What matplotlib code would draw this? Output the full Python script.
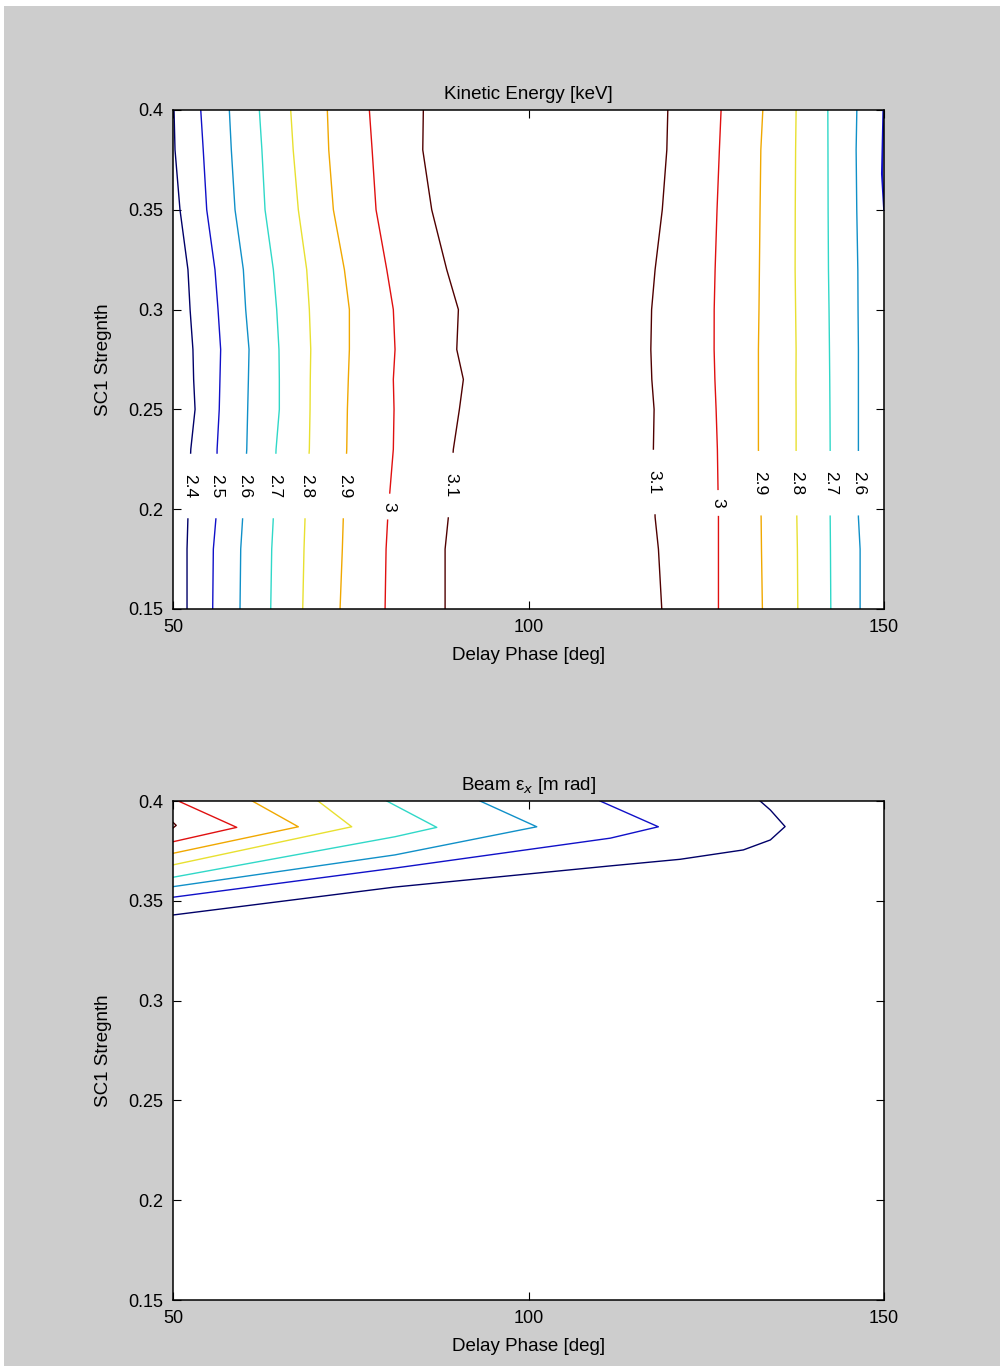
import numpy as np
import matplotlib
matplotlib.use("Agg")
import matplotlib.pyplot as plt
from matplotlib.patches import Rectangle

plt.rcParams["font.family"] = ["Liberation Sans", "DejaVu Sans"]
plt.rcParams["mathtext.fontset"] = "dejavusans"

# contour colours, lowest level -> highest level (jet-like)
level_colors = ["#000068", "#1010c8", "#1090c8", "#30d8c8",
                "#e8e030", "#f0a800", "#e01010", "#500000"]

# ---- Kinetic energy contours: x position of each level at these y values
ke_y = [0.15, 0.18, 0.196, 0.23, 0.25, 0.265, 0.28, 0.30, 0.32, 0.35, 0.38, 0.40]

ke_levels_left = [2.4, 2.5, 2.6, 2.7, 2.8, 2.9, 3.0, 3.1]
ke_x_left = [
    [51.97, 51.97, 52.1, 52.5, 53.1, 52.9, 52.8, 52.4, 52.1, 50.98, 50.28, 50.14],
    [55.58, 55.67, 56.05, 56.2, 56.5, 56.6, 56.7, 56.33, 55.9, 54.74, 54.25, 53.9],
    [59.42, 59.52, 59.8, 60.37, 60.5, 60.6, 60.69, 60.22, 59.89, 58.72, 58.2, 57.92],
    [63.74, 63.88, 64.11, 64.49, 64.95, 64.95, 64.9, 64.58, 64.11, 62.94, 62.5, 62.14],
    [68.24, 68.42, 68.57, 69.17, 69.27, 69.3, 69.37, 69.17, 68.8, 67.62, 66.9, 66.55],
    [73.49, 73.81, 73.95, 74.43, 74.52, 74.65, 74.8, 74.8, 74.1, 72.55, 71.9, 71.7],
    [79.82, 79.96, 80.2, 80.98, 81.08, 80.98, 81.22, 80.98, 80.06, 78.55, 78.0, 77.61],
    [88.26, 88.26, 88.72, 89.42, 90.27, 90.83, 89.9, 90.13, 88.49, 86.38, 85.12, 85.2],
]
ke_label_y_left = [0.2116, 0.2116, 0.2116, 0.2116, 0.2116, 0.2116, 0.2013, 0.2121]

ke_levels_right = [3.1, 3.0, 2.9, 2.8, 2.7, 2.6]
ke_x_right = [
    [118.73, 118.26, 117.79, 117.55, 117.65, 117.33, 117.19, 117.3, 117.79, 118.8, 119.44, 119.58],
    [126.7, 126.7, 126.7, 126.55, 126.37, 126.2, 126.09, 126.1, 126.23, 126.5, 126.83, 127.07],
    [132.88, 132.75, 132.7, 132.32, 132.32, 132.32, 132.32, 132.4, 132.46, 132.55, 132.66, 132.94],
    [137.86, 137.8, 137.72, 137.62, 137.62, 137.6, 137.62, 137.55, 137.48, 137.5, 137.55, 137.62],
    [142.5, 142.45, 142.41, 142.41, 142.38, 142.35, 142.31, 142.25, 142.17, 142.12, 142.1, 142.08],
    [146.62, 146.62, 146.38, 146.38, 146.38, 146.38, 146.38, 146.33, 146.3, 146.15, 146.06, 146.16],
]
ke_label_y_right = [0.2136, 0.2031, 0.213, 0.213, 0.213, 0.213]

# short 2.5 piece along the right edge
ke_edge_x = [150.0, 149.7, 149.9]
ke_edge_y = [0.35, 0.368, 0.40]

# ---- Beam emittance contours (outer -> inner level), traced as polylines
em_x = [
    [132.56, 134.0, 136.07, 134.0, 130.2, 121.3, 111.5, 81.2, 50.0],
    [110.06, 118.25, 111.5, 81.2, 50.0],
    [93.18, 101.15, 81.2, 50.0],
    [80.06, 87.09, 81.2, 50.0],
    [70.4, 75.13, 50.0],
    [61.15, 67.62, 50.0],
    [50.75, 58.96, 50.0],
    [50.0, 50.45, 50.0],
]
em_y = [
    [0.4, 0.3955, 0.3872, 0.3805, 0.3755, 0.3708, 0.3675, 0.3569, 0.3429],
    [0.4, 0.3871, 0.3814, 0.3664, 0.3518],
    [0.4, 0.3871, 0.373, 0.3571],
    [0.4, 0.3868, 0.3821, 0.3618],
    [0.4, 0.3871, 0.368],
    [0.4, 0.3871, 0.3738],
    [0.4, 0.3868, 0.3796],
    [0.3893, 0.3878, 0.3865],
]

x_ticks = [50, 100, 150]
y_ticks = [0.15, 0.2, 0.25, 0.3, 0.35, 0.4]
y_ticklabels = ["0.15", "0.2", "0.25", "0.3", "0.35", "0.4"]


def fmt(v):
    return ("%g" % v)


def draw_labeled(ax, xs, ys, level, label_y, color):
    xs = np.asarray(xs)
    ys = np.asarray(ys)
    txt = fmt(level)
    half = 0.0165 if len(txt) > 1 else 0.0068
    y0, y1 = label_y - half, label_y + half
    lo = ys < y0
    hi = ys > y1
    ax.plot(np.append(xs[lo], np.interp(y0, ys, xs)), np.append(ys[lo], y0),
            color=color, lw=1.0)
    ax.plot(np.insert(xs[hi], 0, np.interp(y1, ys, xs)), np.insert(ys[hi], 0, y1),
            color=color, lw=1.0)
    ax.text(np.interp(label_y, ys, xs), label_y, txt, rotation=-90,
            ha="center", va="center", fontsize=12.5, color="black")


def style_axes(ax, title):
    ax.set_xlim(50, 150)
    ax.set_ylim(0.15, 0.4)
    ax.set_xticks(x_ticks)
    ax.set_yticks(y_ticks)
    ax.set_yticklabels(y_ticklabels)
    ax.tick_params(direction="in", top=True, right=True, length=6,
                   labelsize=13, pad=7)
    for s in ax.spines.values():
        s.set_linewidth(1.1)
    ax.set_title(title, fontsize=13.5, pad=8)
    ax.set_xlabel("Delay Phase [deg]", fontsize=13.5, labelpad=8)
    ax.set_ylabel("SC1 Stregnth", fontsize=13.5, labelpad=12)


fig = plt.figure(figsize=(10.03, 13.66), dpi=100, facecolor="white")
fig.patches.append(Rectangle((0.004, 0.0), 0.993, 1 - 6 / 1366,
                             transform=fig.transFigure, facecolor="#cdcdcd",
                             edgecolor="none", zorder=-10))

ax1 = fig.add_axes([0.1725, 0.5542, 0.709, 0.3653])
for i, lev in enumerate(ke_levels_left):
    draw_labeled(ax1, ke_x_left[i], ke_y, lev, ke_label_y_left[i], level_colors[i])
for i, lev in enumerate(ke_levels_right):
    c = level_colors[ke_levels_left.index(lev)]
    draw_labeled(ax1, ke_x_right[i], ke_y, lev, ke_label_y_right[i], c)
ax1.plot(ke_edge_x, ke_edge_y, color=level_colors[1], lw=1.5)
style_axes(ax1, "Kinetic Energy [keV]")

ax2 = fig.add_axes([0.1725, 0.0483, 0.709, 0.3653])
for i in range(len(em_x)):
    ax2.plot(em_x[i], em_y[i], color=level_colors[i], lw=1.0)
style_axes(ax2, "Beam ε$_x$ [m rad]")

fig.savefig("out.png", dpi=100, facecolor=fig.get_facecolor())
